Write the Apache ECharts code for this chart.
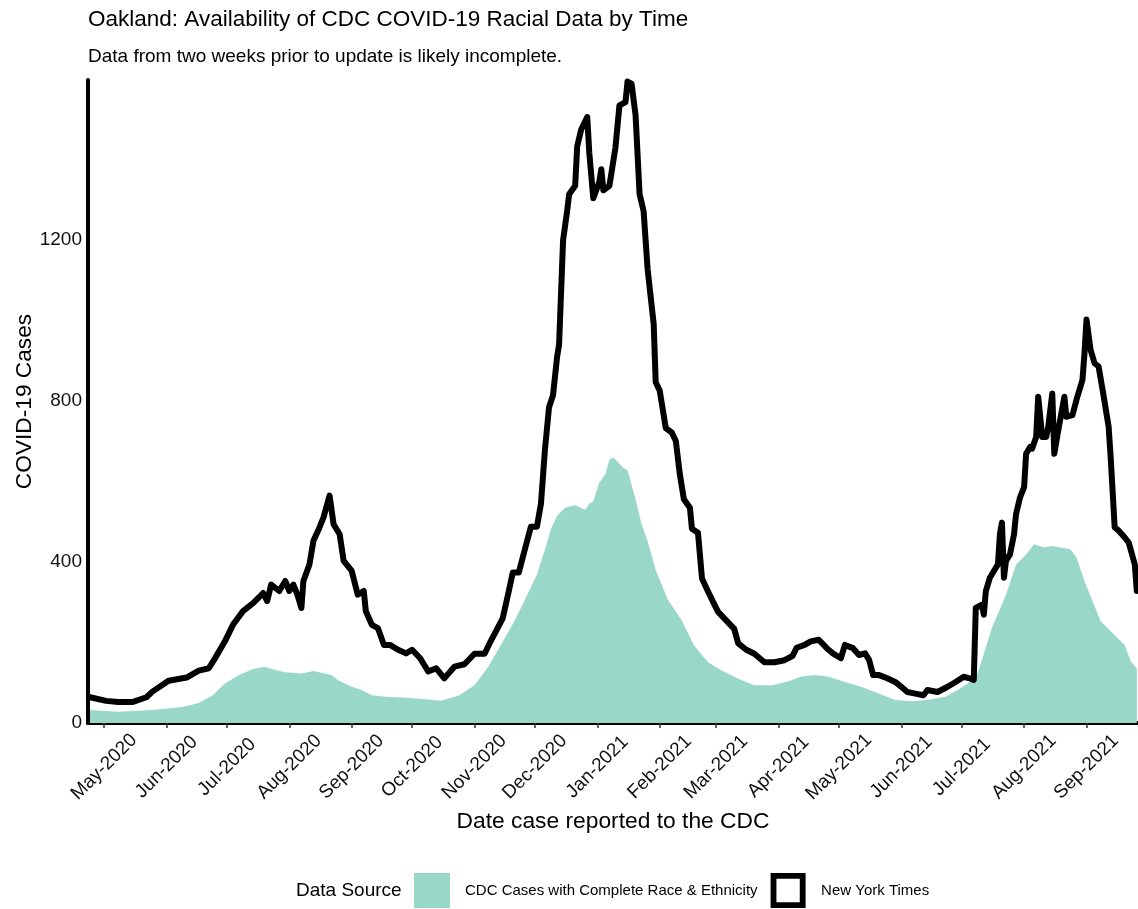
<!DOCTYPE html>
<html><head><meta charset="utf-8">
<script src="https://cdn.jsdelivr.net/npm/echarts@6/dist/echarts.min.js"></script>
<style>html,body{margin:0;padding:0;background:#fff}#c{width:1138px;height:909px}</style>
</head><body><div id="c"></div>
<script>
// ---- Data ----
const nytDates = ['2020-04-24','2020-05-02','2020-05-08','2020-05-15','2020-05-22','2020-05-25','2020-06-02','2020-06-11','2020-06-17','2020-06-22','2020-06-25','2020-06-30','2020-07-04','2020-07-09','2020-07-14','2020-07-19','2020-07-21','2020-07-23','2020-07-27','2020-07-30','2020-08-01','2020-08-03','2020-08-05','2020-08-07','2020-08-08','2020-08-11','2020-08-13','2020-08-16','2020-08-18','2020-08-21','2020-08-23','2020-08-26','2020-08-28','2020-09-01','2020-09-04','2020-09-07','2020-09-08','2020-09-11','2020-09-14','2020-09-17','2020-09-20','2020-09-24','2020-09-28','2020-10-01','2020-10-05','2020-10-09','2020-10-13','2020-10-17','2020-10-22','2020-10-27','2020-11-01','2020-11-06','2020-11-09','2020-11-15','2020-11-18','2020-11-20','2020-11-23','2020-11-26','2020-11-29','2020-12-02','2020-12-04','2020-12-06','2020-12-08','2020-12-10','2020-12-12','2020-12-13','2020-12-15','2020-12-17','2020-12-18','2020-12-21','2020-12-22','2020-12-24','2020-12-27','2020-12-28','2020-12-30','2021-01-02','2021-01-03','2021-01-04','2021-01-07','2021-01-08','2021-01-10','2021-01-12','2021-01-15','2021-01-16','2021-01-18','2021-01-20','2021-01-22','2021-01-24','2021-01-26','2021-01-29','2021-01-30','2021-02-01','2021-02-03','2021-02-04','2021-02-07','2021-02-09','2021-02-11','2021-02-13','2021-02-16','2021-02-17','2021-02-20','2021-02-22','2021-02-25','2021-02-28','2021-03-02','2021-03-06','2021-03-10','2021-03-12','2021-03-16','2021-03-20','2021-03-25','2021-03-30','2021-04-04','2021-04-08','2021-04-10','2021-04-14','2021-04-17','2021-04-21','2021-04-25','2021-04-28','2021-05-02','2021-05-04','2021-05-08','2021-05-11','2021-05-14','2021-05-16','2021-05-18','2021-05-21','2021-05-25','2021-05-29','2021-06-01','2021-06-04','2021-06-08','2021-06-12','2021-06-14','2021-06-19','2021-06-24','2021-06-28','2021-07-02','2021-07-05','2021-07-07','2021-07-08','2021-07-11','2021-07-12','2021-07-13','2021-07-15','2021-07-17','2021-07-19','2021-07-20','2021-07-21','2021-07-22','2021-07-23','2021-07-25','2021-07-27','2021-07-28','2021-07-30','2021-08-01','2021-08-02','2021-08-04','2021-08-05','2021-08-07','2021-08-08','2021-08-10','2021-08-12','2021-08-13','2021-08-15','2021-08-16','2021-08-18','2021-08-21','2021-08-22','2021-08-25','2021-08-27','2021-08-30','2021-08-31','2021-09-01','2021-09-03','2021-09-05','2021-09-07','2021-09-09','2021-09-12','2021-09-13','2021-09-15','2021-09-17','2021-09-20','2021-09-22','2021-09-25','2021-09-26'];
const nytCases = [64,55,52,52,64,78,105,113,130,136,160,203,244,278,298,323,303,344,328,353,328,344,319,286,353,394,453,486,511,565,494,469,403,378,319,328,278,244,236,194,194,182,173,182,161,128,136,111,140,146,172,172,203,260,327,374,374,431,488,488,545,680,784,815,909,940,1200,1272,1314,1335,1433,1475,1506,1418,1304,1345,1376,1324,1335,1366,1430,1535,1543,1594,1589,1511,1314,1272,1127,992,847,826,764,733,722,701,618,556,535,483,473,359,327,296,276,255,234,198,182,172,151,151,156,167,187,194,203,207,186,173,161,194,186,169,173,157,119,119,111,102,90,77,73,69,82,77,90,102,115,111,107,286,294,269,328,361,378,394,469,498,361,403,419,469,519,561,586,669,686,682,711,811,711,711,736,819,669,728,811,761,765,803,853,919,1003,928,894,886,828,736,661,486,478,461,448,394,328];
const cdcDates = ['2020-04-24','2020-05-08','2020-05-25','2020-06-09','2020-06-17','2020-06-24','2020-06-30','2020-07-07','2020-07-14','2020-07-20','2020-07-25','2020-07-30','2020-08-07','2020-08-13','2020-08-22','2020-08-25','2020-09-01','2020-09-06','2020-09-11','2020-09-18','2020-09-28','2020-10-08','2020-10-15','2020-10-24','2020-11-01','2020-11-08','2020-11-14','2020-11-21','2020-11-27','2020-12-02','2020-12-06','2020-12-09','2020-12-12','2020-12-16','2020-12-21','2020-12-26','2020-12-28','2020-12-30','2021-01-02','2021-01-05','2021-01-07','2021-01-09','2021-01-12','2021-01-14','2021-01-16','2021-01-20','2021-01-23','2021-01-26','2021-01-30','2021-02-05','2021-02-12','2021-02-18','2021-02-25','2021-03-04','2021-03-12','2021-03-20','2021-03-29','2021-04-06','2021-04-12','2021-04-19','2021-04-26','2021-05-04','2021-05-12','2021-05-21','2021-05-29','2021-06-06','2021-06-14','2021-06-23','2021-06-29','2021-07-04','2021-07-09','2021-07-16','2021-07-23','2021-07-28','2021-08-02','2021-08-06','2021-08-11','2021-08-15','2021-08-19','2021-08-24','2021-08-27','2021-08-31','2021-09-04','2021-09-08','2021-09-13','2021-09-20','2021-09-23','2021-09-26'];
const cdcCases = [32,28,32,40,50,69,98,119,134,140,132,126,123,129,119,107,90,82,69,65,63,59,55,68,94,141,193,255,317,369,431,483,515,535,541,530,545,551,598,618,655,660,644,634,629,556,494,452,380,307,255,193,151,130,110,94,94,104,115,119,115,102,90,73,57,54,57,65,82,98,125,236,319,394,419,444,436,440,436,432,411,353,303,253,228,194,153,136];
const yTicks = [0, 400, 800, 1200];
const monthNames = ['Jan','Feb','Mar','Apr','May','Jun','Jul','Aug','Sep','Oct','Nov','Dec'];
const seriesNames = ['CDC Cases with Complete Race & Ethnicity', 'New York Times'];

const FONT = "'Liberation Sans', Arial, Helvetica, sans-serif";
const chart = echarts.init(document.getElementById('c'), null, {renderer: 'canvas'});
const cdcData = cdcDates.map((d, i) => [d, cdcCases[i]]);
const nytData = nytDates.map((d, i) => [d, nytCases[i]]);

const option = {
  animation: false,
  backgroundColor: '#ffffff',
  textStyle: {fontFamily: FONT},
  title: [
    {text: 'Oakland: Availability of CDC COVID-19 Racial Data by Time', left: 88, top: 8, padding: 0,
     textStyle: {fontFamily: FONT, fontSize: 22.5, lineHeight: 23, fontWeight: 'normal', color: '#000'}},
    {text: 'Data from two weeks prior to update is likely incomplete.', left: 88, top: 47, padding: 0,
     textStyle: {fontFamily: FONT, fontSize: 19, lineHeight: 19, fontWeight: 'normal', color: '#000'}},
    {text: 'Data Source', left: 296, top: 881, padding: 0,
     textStyle: {fontFamily: FONT, fontSize: 19, lineHeight: 19, fontWeight: 'normal', color: '#000'}}
  ],
  legend: {
    left: 414, top: 873, padding: 0, itemWidth: 36, itemHeight: 35, itemGap: 13,
    selectedMode: false,
    textStyle: {fontFamily: FONT, fontSize: 15, color: '#000', padding: [0, 0, 0, 10]},
    data: [
      {name: seriesNames[0], icon: 'rect', itemStyle: {color: '#99d8c9'}},
      {name: seriesNames[1], icon: 'path://M0,0H36V36H0Z M6,6V30H30V6H6Z', itemStyle: {color: '#000'}}
    ]
  },
  grid: {left: 88, right: 0, top: 80, bottom: 186, containLabel: false, outerBoundsMode: 'none'},
  xAxis: {
    type: 'time',
    min: new Date(2020, 3, 23).getTime(),
    max: new Date(2021, 8, 26, 14).getTime(),
    splitNumber: 17,
    minInterval: 28 * 86400000,
    maxInterval: 31 * 86400000,
    name: 'Date case reported to the CDC',
    nameLocation: 'middle',
    nameGap: 87,
    nameMoveOverlap: false,
    nameTextStyle: {fontFamily: FONT, fontSize: 22.8, color: '#000'},
    axisLine: {show: true, onZero: false, lineStyle: {color: '#000', width: 4}},
    axisTick: {show: true, length: 5, lineStyle: {color: '#333', width: 1.5}},
    splitLine: {show: false},
    axisLabel: {
      rotate: 45, align: 'center', verticalAlign: 'middle', margin: 44,
      fontFamily: FONT, fontSize: 19, color: '#111',
      formatter: function (v) {
        const d = new Date(v);
        if (d.getDate() !== 1) return '';
        return monthNames[d.getMonth()] + '-' + d.getFullYear();
      }
    }
  },
  yAxis: {
    type: 'value', min: 0, max: 1598, interval: 400,
    name: 'COVID-19 Cases', nameLocation: 'middle', nameGap: 52,
    nameMoveOverlap: false,
    nameTextStyle: {fontFamily: FONT, fontSize: 22.7, color: '#000'},
    axisLine: {show: true, lineStyle: {color: '#000', width: 4}},
    axisTick: {show: false},
    splitLine: {show: false},
    axisLabel: {
      margin: 6, fontFamily: FONT, fontSize: 19, color: '#111', showMaxLabel: false,
      formatter: function (v) { return yTicks.indexOf(v) >= 0 ? String(v) : ''; }
    }
  },
  series: [
    {
      name: seriesNames[0], type: 'line', data: cdcData, symbol: 'none', showSymbol: false,
      lineStyle: {width: 0}, itemStyle: {color: '#99d8c9'},
      areaStyle: {color: '#99d8c9', opacity: 1}, z: 1, silent: true
    },
    {
      name: seriesNames[1], type: 'line', data: nytData, symbol: 'none', showSymbol: false,
      lineStyle: {color: '#000', width: 6, join: 'round', cap: 'round'},
      itemStyle: {color: '#000'}, z: 3, silent: true
    }
  ]
};
chart.setOption(option);
</script>
</body></html>
